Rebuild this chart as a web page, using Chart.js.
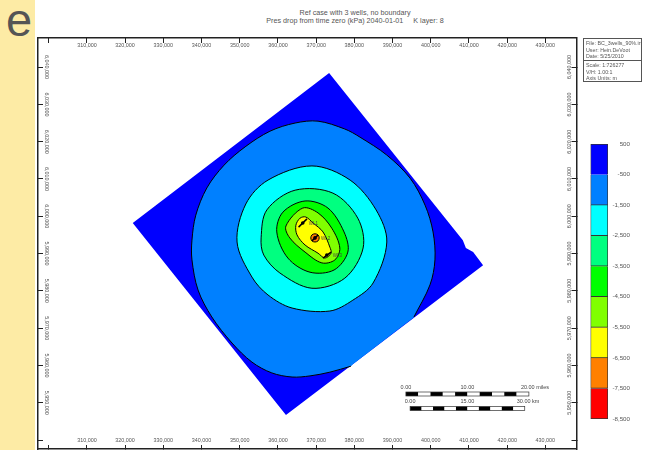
<!DOCTYPE html>
<html lang="en">
<head>
    <meta charset="UTF-8">
    <title>Pres drop from time zero</title>
    <style>
        html, body { margin: 0; padding: 0; background: #fff; }
        body { width: 666px; height: 450px; overflow: hidden; position: relative; font-family: 'Liberation Sans', Arial, sans-serif; color: #555; }
        #panel { position: absolute; left: 0; top: 0; width: 35px; height: 450px; background: #fdeba5; }
        #letter { position: absolute; left: 6px; top: -8px; font-size: 47px; line-height: 56px; color: #555; }
        #title { position: absolute; left: 155px; width: 400px; top: 9px; text-align: center; font-size: 7.2px; line-height: 8px; white-space: pre; }
        #info { position: absolute; left: 583px; top: 38px; width: 57px; height: 42px; border: 1.5px solid #555; font-size: 5.3px; line-height: 6.6px; }
        #info div { padding: 1px 2px 0 2px; height: 20px; white-space: nowrap; overflow: hidden; }
        #info div + div { border-top: 1px solid #555; }
        #map { position: absolute; left: 0; top: 0; }
        #bar { position: absolute; left: 580px; top: 130px; }
    </style>
    <script src="https://cdn.jsdelivr.net/npm/chart.js"></script>
</head>
<body>
<div id="panel"></div>
<div id="letter">e</div>
<div id="title">Ref case with 3 wells, no boundary
Pres drop from time zero (kPa) 2040-01-01     K layer: 8</div>
<canvas id="map" width="666" height="450"></canvas>
<canvas id="bar" width="70" height="300"></canvas>
<div id="info">
    <div>File: BC_3wells_90%.irf<br>User:  Hein.DeVoot<br>Date: 5/25/2010</div>
    <div>Scale: 1:726277<br>V/H: 1.00:1<br>Axis Units: m</div>
</div>

<script>
    // all map coordinates in km (easting / northing)
    const xTickValues = [300, 310, 320, 330, 340, 350, 360, 370, 380, 390, 400, 410, 420, 430];
    const yTickValues = [6040, 6030, 6020, 6010, 6000, 5990, 5980, 5970, 5960, 5950, 5940];

    const domainX = [373.4, 408.4, 409.2, 411.1, 413.7, 362.1, 322.0];
    const domainY = [6038.4, 5993.6, 5991.5, 5990.4, 5986.9, 5946.7, 5998.2];

    // last two points of this one run along the model edge
    const c500X = [379.1, 373.6, 368.4, 363.7, 358.4, 353.2, 348.0, 342.7, 339.1, 337.5, 337.5, 338.5, 341.4, 345.9, 351.4, 357.9, 364.5, 370.5, 377.5, 381.5, 388.5, 394.6, 398.5, 400.6, 401.1, 399.8, 395.6, 395.1, 379.6];
    const c500Y = [5959.8, 5958.2, 5957.2, 5956.9, 5958.0, 5960.9, 5966.0, 5973.0, 5980.2, 5988.3, 5993.6, 6000.3, 6007.6, 6013.7, 6018.6, 6022.8, 6025.0, 6025.5, 6023.4, 6021.2, 6016.4, 6010.2, 6003.0, 5995.8, 5988.3, 5981.6, 5973.0, 5972.5, 5960.3];

    const c1500X = [349.3, 351.6, 357.4, 368.9, 378.9, 385.7, 388.5, 384.9, 379.6, 373.6, 363.7, 357.4, 353.2];
    const c1500Y = [5993.1, 6003.3, 6009.7, 6013.5, 6009.7, 6001.7, 5993.1, 5982.1, 5977.5, 5974.6, 5975.4, 5978.9, 5983.7];

    const c2500X = [355.6, 357.1, 364.5, 374.4, 380.9, 382.3, 377.5, 368.9, 360.5, 356.3];
    const c2500Y = [5994.2, 6001.7, 6007.0, 6006.2, 5999.5, 5991.5, 5983.4, 5980.7, 5984.8, 5989.6];

    const c3500X = [359.7, 361.3, 367.1, 373.1, 377.3, 378.3, 374.7, 368.4, 362.6];
    const c3500Y = [5995.8, 6001.1, 6004.1, 6002.2, 5995.8, 5990.4, 5985.6, 5985.0, 5988.8];

    const c4500X = [362.1, 366.5, 370.5, 374.1, 376.2, 374.9, 371.5, 367.1, 363.1];
    const c4500Y = [5997.4, 6002.2, 6000.9, 5996.8, 5991.5, 5988.3, 5987.5, 5990.4, 5994.2];

    const c5500X = [364.7, 365.8, 367.3, 369.2, 371.8, 373.6, 373.9, 372.3, 370.5, 367.1, 365.0];
    const c5500Y = [5997.6, 5999.5, 5999.8, 5998.2, 5995.8, 5991.7, 5990.1, 5988.8, 5990.1, 5992.3, 5995.0];

    const c6500X = [369.7, 370.5, 370.8, 370.5, 369.7, 368.9, 368.6, 368.9];
    const c6500Y = [5995.3, 5995.0, 5994.2, 5993.4, 5993.1, 5993.4, 5994.2, 5995.0];

    const c7500X = [369.7, 370.2, 369.7, 369.2];
    const c7500Y = [5994.7, 5994.2, 5993.7, 5994.2];

    const wellNames = ['WL1', 'WL2', 'WL3'];
    const wellX = [366.5, 369.7, 372.8];
    const wellY = [5998.2, 5994.2, 5989.6];
    const wellTrackX = [[365.4, 367.6], [368.9, 370.5], [371.8, 373.9]];
    const wellTrackY = [[5997.1, 5999.3], [5993.4, 5995.0], [5988.8, 5990.4]];

    const colorLevels = [500, -500, -1500, -2500, -3500, -4500, -5500, -6500, -7500, -8500];
    const colorBands = ['#0000ff', '#0080ff', '#00ffff', '#00ff80', '#00ff00', '#80ff00', '#ffff00', '#ff8000', '#ff0000'];

    const milesBarKm = 32.19;   // 20 miles
    const kmBarKm = 30;

    const fmt = v => (v * 1000).toLocaleString('en-US');
    const toPoints = (xs, ys) => xs.map((x, i) => ({x: x, y: ys[i]}));

    function band(xs, ys, color, opts) {
        return Object.assign({
            data: toPoints(xs, ys),
            isBand: true,
            showLine: true,
            fill: 'shape',
            backgroundColor: color,
            borderColor: '#000',
            borderWidth: 1,
            tension: 0.33,
            pointRadius: 0
        }, opts);
    }

    const bands = [
        band(domainX, domainY, colorBands[0], {tension: 0, borderWidth: 0}),
        band(c500X, c500Y, colorBands[1], {borderWidth: 0}),
        // the side lying on the model edge has no contour line, so this one is stroked open
        {
            data: toPoints(c500X.slice(0, -2), c500Y.slice(0, -2)),
            showLine: true,
            borderColor: '#000',
            borderWidth: 1,
            tension: 0.33,
            pointRadius: 0
        },
        band(c1500X, c1500Y, colorBands[2]),
        band(c2500X, c2500Y, colorBands[3]),
        band(c3500X, c3500Y, colorBands[4]),
        band(c4500X, c4500Y, colorBands[5]),
        band(c5500X, c5500Y, colorBands[6]),
        band(c6500X, c6500Y, colorBands[7]),
        band(c7500X, c7500Y, colorBands[8], {borderWidth: 0})
    ];

    const wellSets = wellNames.map((name, i) => ({
        data: toPoints(wellTrackX[i], wellTrackY[i]),
        showLine: true,
        borderColor: '#000',
        borderWidth: 1.5,
        pointRadius: 0
    }));
    wellSets.push({
        data: toPoints(wellX, wellY),
        pointRadius: 1.8,
        pointBackgroundColor: '#000',
        pointBorderWidth: 0
    });

    const allSets = bands.concat(wellSets);
    allSets.forEach((d, i) => { d.order = allSets.length - i; });

    // contours are closed curves, same trick the radar controller uses
    const closeContours = {
        id: 'closeContours',
        afterDatasetsUpdate(chart) {
            chart.data.datasets.forEach((d, i) => {
                if (!d.isBand) return;
                const line = chart.getDatasetMeta(i).dataset;
                line._loop = true;
                line._fullLoop = true;
                line._pointsUpdated = false;
                delete line._segments;
            });
        }
    };

    // well names and the two scale bars, placed through the x / y scales
    const mapNotes = {
        id: 'mapNotes',
        afterDatasetsDraw(chart) {
            const {ctx, scales} = chart;
            ctx.save();
            ctx.fillStyle = '#444';
            ctx.textBaseline = 'middle';
            ctx.font = "4.5px 'Liberation Sans'";
            wellNames.forEach((name, i) => {
                ctx.fillText(name, scales.x.getPixelForValue(wellX[i]) + 6, scales.y.getPixelForValue(wellY[i]) + 1);
            });

            const drawBar = (startKm, lengthKm, top, labels) => {
                const left = scales.x.getPixelForValue(startKm);
                const step = (scales.x.getPixelForValue(startKm + lengthKm) - left) / 10;
                for (let i = 0; i < 10; i++) {
                    ctx.fillStyle = i % 2 ? '#fff' : '#000';
                    ctx.fillRect(left + i * step, top, step, 4);
                }
                ctx.strokeStyle = '#333';
                ctx.lineWidth = 0.7;
                ctx.strokeRect(left, top, step * 10, 4);
                ctx.fillStyle = '#444';
                ctx.font = "5.5px 'Liberation Sans'";
                ctx.textAlign = 'center';
                ctx.fillText(labels[0], left, top - 5);
                ctx.fillText(labels[1], left + step * 5, top - 5);
                ctx.textAlign = 'left';
                ctx.fillText(labels[2], left + step * 10 - 8, top - 5);
            };
            drawBar(393.5, milesBarKm, 392, ['0.00', '10.00', '20.00 miles']);
            drawBar(394.6, kmBarKm, 406.5, ['0.00', '15.00', '30.00 km']);
            ctx.restore();
        }
    };

    // every axis has width 0 and carries its labels inside the frame
    function axis(values, min, max, position, axisName, tickExtra, tickLength) {
        return {
            type: 'linear',
            axis: axisName,
            position: position,
            min: min,
            max: max,
            afterBuildTicks: s => { s.ticks = values.map(v => ({value: v})); },
            afterFit: s => {
                if (s.isHorizontal()) s.height = 0; else s.width = 0;
                s.paddingLeft = s.paddingRight = s.paddingTop = s.paddingBottom = 0;
            },
            border: {display: true, color: '#222', width: 1.5},
            grid: {drawOnChartArea: false, drawTicks: true, tickLength: tickLength || -5, tickColor: '#222', tickWidth: 1},
            ticks: Object.assign({
                font: {family: "'Liberation Sans'", size: 5.4},
                color: '#555',
                autoSkip: false,
                mirror: true,
                // the first x tick and the last y tick carry no label
                callback: v => (v === 300 || v === 5940) ? '' : fmt(v)
            }, tickExtra)
        };
    }

    new Chart(document.getElementById('map'), {
        type: 'scatter',
        data: {datasets: allSets},
        options: {
            responsive: false,
            animation: false,
            events: [],
            layout: {autoPadding: false, padding: {left: 38, right: 89.5, top: 38, bottom: 1}},
            plugins: {legend: {display: false}, tooltip: {enabled: false}},
            scales: {
                x: axis(xTickValues, 297.2, 438.15, 'bottom', 'x', {maxRotation: 0, padding: 5.5}, -4),
                xTop: axis(xTickValues, 297.2, 438.15, 'top', 'x', {maxRotation: 0, padding: 3.8}),
                y: axis(yTickValues, 5937.6, 6047.8, 'left', 'y', {crossAlign: 'center', minRotation: -90, maxRotation: -90, padding: -3.5}),
                yRight: axis(yTickValues, 5937.6, 6047.8, 'right', 'y', {crossAlign: 'center', minRotation: 90, maxRotation: 90, padding: 5})
            }
        },
        plugins: [closeContours, mapNotes]
    });

    new Chart(document.getElementById('bar'), {
        type: 'bar',
        data: {
            labels: [''],
            datasets: colorBands.map((color, i) => ({
                data: [[colorLevels[i + 1], colorLevels[i]]],
                backgroundColor: color,
                borderColor: '#333',
                borderWidth: 1,
                grouped: false,
                barPercentage: 1,
                categoryPercentage: 1
            }))
        },
        options: {
            responsive: false,
            animation: false,
            events: [],
            layout: {autoPadding: false, padding: {left: 10.5, right: 20, top: 14, bottom: 11}},
            plugins: {legend: {display: false}, tooltip: {enabled: false}},
            scales: {
                x: {display: false},
                y: {
                    position: 'right',
                    min: -8500,
                    max: 500,
                    afterBuildTicks: s => { s.ticks = colorLevels.map(v => ({value: v})); },
                    afterFit: s => { s.width = 22; s.paddingTop = s.paddingBottom = 0; },
                    border: {display: false},
                    grid: {display: false},
                    ticks: {
                        font: {family: "'Liberation Sans'", size: 6.2},
                        color: '#555',
                        crossAlign: 'far',
                        padding: 4,
                        callback: v => v.toLocaleString('en-US')
                    }
                }
            }
        }
    });
</script>
</body>
</html>
